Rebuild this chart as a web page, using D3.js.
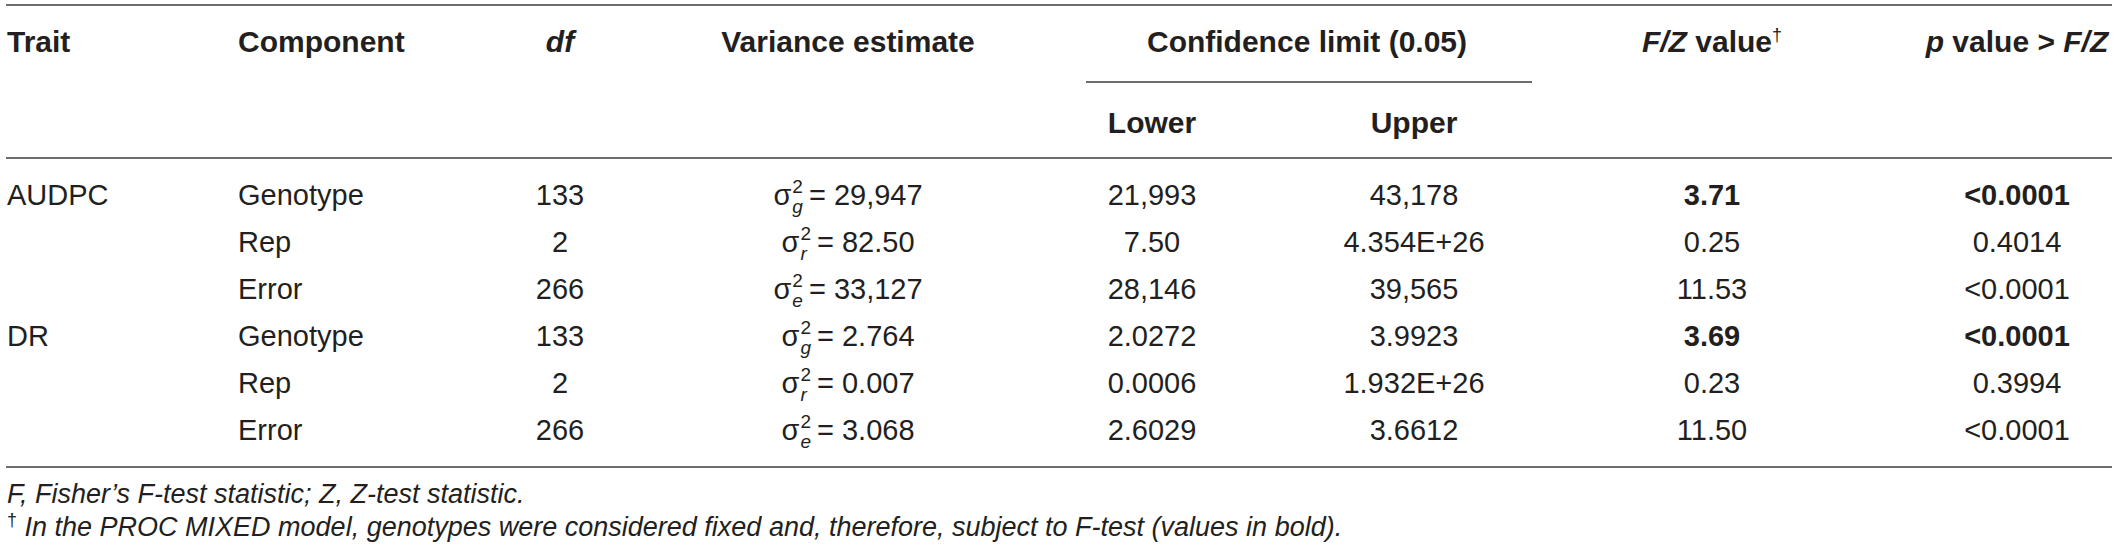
<!DOCTYPE html>
<html>
<head>
<meta charset="utf-8">
<script src="https://cdn.jsdelivr.net/npm/d3@7/dist/d3.min.js"></script>
<style>
  html, body { margin: 0; padding: 0; background: #ffffff; }
  svg { display: block; }
  text { font-family: "Liberation Sans", Arial, Helvetica, sans-serif; fill: #231f20; }
</style>
</head>
<body>
<svg id="chart" width="2118" height="552"></svg>
<script>
// ---------------- data ----------------
const traits      = ["AUDPC", "", "", "DR", "", ""];
const components  = ["Genotype", "Rep", "Error", "Genotype", "Rep", "Error"];
const dfValues    = ["133", "2", "266", "133", "2", "266"];
const varSubs     = ["g", "r", "e", "g", "r", "e"];
const varValues   = ["29,947", "82.50", "33,127", "2.764", "0.007", "3.068"];
const lowerCL     = ["21,993", "7.50", "28,146", "2.0272", "0.0006", "2.6029"];
const upperCL     = ["43,178", "4.354E+26", "39,565", "3.9923", "1.932E+26", "3.6612"];
const fzValues    = ["3.71", "0.25", "11.53", "3.69", "0.23", "11.50"];
const pValues     = ["<0.0001", "0.4014", "<0.0001", "<0.0001", "0.3994", "<0.0001"];
const columnKeys  = ["trait", "component", "df", "variance", "lower", "upper", "fz", "p"];
const groupHeader = "Confidence limit (0.05)";
const footnote1   = "F, Fisher\u2019s F-test statistic; Z, Z-test statistic.";
const footnote2   = "In the PROC MIXED model, genotypes were considered fixed and, therefore, subject to F-test (values in bold).";

// ---------------- layout ----------------
const W = 2118, H = 552;
const svg = d3.select("#chart");
const FS = 29;

const colX = d3.scaleOrdinal()
  .domain(columnKeys)
  .range([7, 238, 560, 848, 1152, 1414, 1712, 2017]);
const colAnchor = d3.scaleOrdinal()
  .domain(columnKeys)
  .range(["start", "start", "middle", "middle", "middle", "middle", "middle", "middle"]);

const rowY = d3.scalePoint()
  .domain(d3.range(components.length))
  .range([205, 440]);

const lineColor = "#6d6d6d";
const lineLeft = 6, lineRight = 2112;

function hline(x1, x2, y) {
  svg.append("line")
    .attr("x1", x1).attr("x2", x2).attr("y1", y).attr("y2", y)
    .attr("stroke", lineColor).attr("stroke-width", 2);
}

hline(lineLeft, lineRight, 5);
hline(1086, 1532, 82);
hline(lineLeft, lineRight, 158);
hline(lineLeft, lineRight, 467);

// ---------------- header ----------------
const hdrY = 52, subY = 133;
const hdr = svg.append("g").attr("font-weight", "bold").attr("font-size", 30);

function headerText(x, y, anchor, parts) {
  const t = hdr.append("text").attr("x", x).attr("y", y).attr("text-anchor", anchor);
  parts.forEach(p => {
    const s = t.append("tspan").text(p.t);
    if (p.i) s.attr("font-style", "italic");
    if (p.sup) s.attr("font-size", 18).attr("dy", -11).attr("font-weight", "normal");
  });
  return t;
}

headerText(colX("trait"), hdrY, "start", [{t: "Trait"}]);
headerText(colX("component"), hdrY, "start", [{t: "Component"}]);
headerText(colX("df"), hdrY, "middle", [{t: "df", i: true}]);
headerText(colX("variance"), hdrY, "middle", [{t: "Variance estimate"}]);
headerText((colX("lower") + colX("upper")) / 2 + 24, hdrY, "middle", [{t: groupHeader}]);
headerText(colX("lower"), subY, "middle", [{t: "Lower"}]);
headerText(colX("upper"), subY, "middle", [{t: "Upper"}]);
headerText(colX("fz"), hdrY, "middle", [{t: "F/Z", i: true}, {t: " value"}, {t: "\u2020", sup: true}]);
headerText(colX("p"), hdrY, "middle", [{t: "p", i: true}, {t: " value > "}, {t: "F/Z", i: true}]);

// ---------------- body ----------------
const body = svg.append("g").attr("font-size", FS);
const rows = d3.range(components.length);

function simpleColumn(key, values) {
  body.selectAll("text.c-" + key)
    .data(rows)
    .join("text")
    .attr("class", "c-" + key)
    .attr("x", colX(key))
    .attr("y", i => rowY(i))
    .attr("text-anchor", colAnchor(key))
    .attr("font-weight", i => (key === "fz" || key === "p") && components[i] === "Genotype" ? "bold" : "normal")
    .text(i => values[i]);
}

simpleColumn("trait", traits);
simpleColumn("component", components);
simpleColumn("df", dfValues);
simpleColumn("lower", lowerCL);
simpleColumn("upper", upperCL);
simpleColumn("fz", fzValues);
simpleColumn("p", pValues);

// variance estimate: sigma with stacked super/subscript
rows.forEach(i => {
  const g = body.append("g");
  const sig = g.append("text").attr("x", 0).attr("y", 0).text("\u03c3");
  const sw = sig.node().getComputedTextLength();
  const sup = g.append("text").attr("x", sw + 1).attr("y", -12).attr("font-size", 19).text("2");
  const sub = g.append("text").attr("x", sw + 1).attr("y", 8).attr("font-size", 19)
    .attr("font-style", "italic").text(varSubs[i]);
  const scriptW = Math.max(sup.node().getComputedTextLength(), sub.node().getComputedTextLength());
  const rest = g.append("text").attr("x", sw + 1 + scriptW + 6).attr("y", 0)
    .text("= " + varValues[i]);
  const total = sw + 1 + scriptW + 6 + rest.node().getComputedTextLength();
  g.attr("transform", `translate(${colX("variance") - total / 2},${rowY(i)})`);
});

// ---------------- footnotes ----------------
const foot = svg.append("g").attr("font-size", 27).attr("font-style", "italic");
foot.append("text").attr("x", 7).attr("y", 503).text(footnote1);
const f2 = foot.append("text").attr("x", 7).attr("y", 536);
f2.append("tspan").attr("font-style", "normal").attr("font-size", 18).attr("dy", -10).text("\u2020");
f2.append("tspan").attr("dy", 10).text(" " + footnote2);
</script>
</body>
</html>
